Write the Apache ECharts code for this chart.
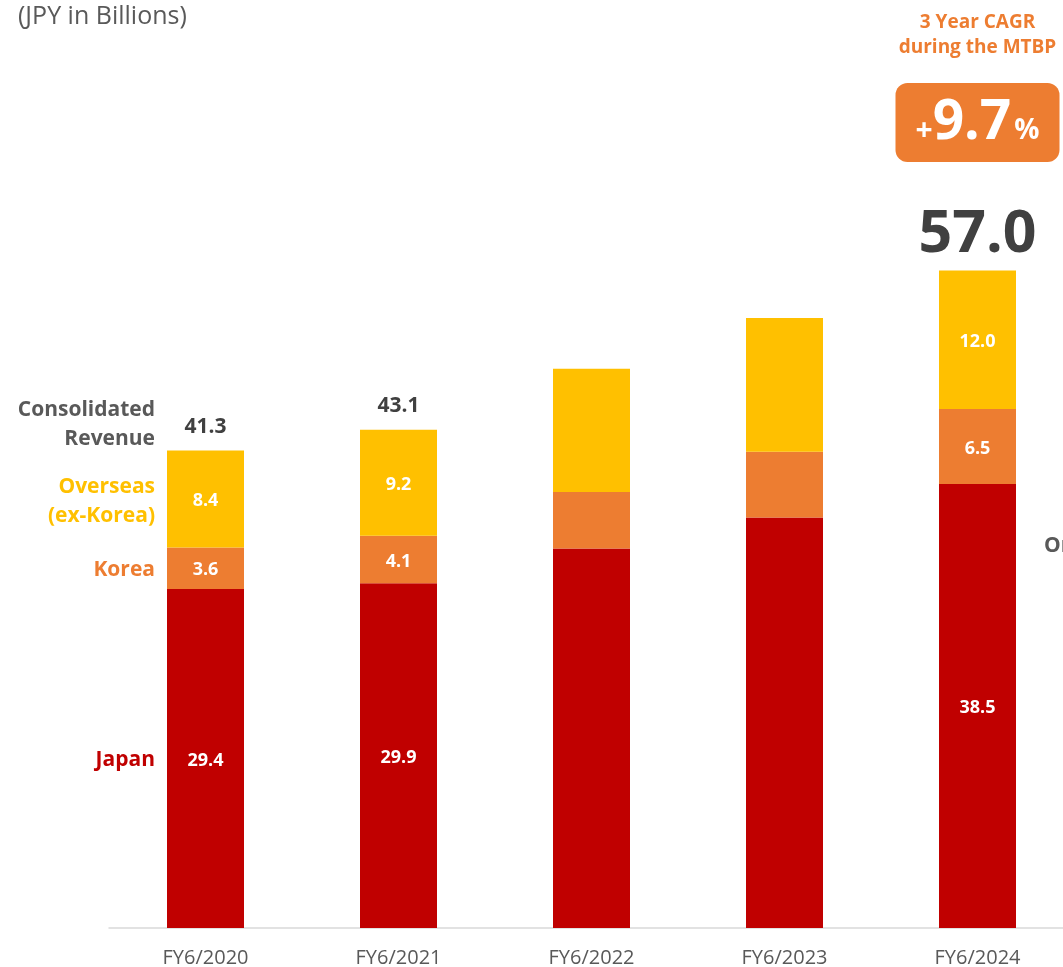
<!DOCTYPE html>
<html>
<head>
<meta charset="utf-8">
<script src="https://cdn.jsdelivr.net/npm/echarts@6/dist/echarts.min.js"></script>
<style>
  html, body { margin: 0; padding: 0; background: #ffffff; }
  #chart { width: 1063px; height: 967px; }
</style>
</head>
<body>
<div id="chart"></div>
<script>
// Revenue by region, JPY billions
const categories = ['FY6/2020', 'FY6/2021', 'FY6/2022', 'FY6/2023', 'FY6/2024'];
const japan    = [29.4, 29.9, 32.9, 35.6, 38.5];
const korea    = [3.6, 4.1, 4.9, 5.7, 6.5];
const overseas = [8.4, 9.2, 10.7, 11.6, 12.0];
const totals   = [41.3, 43.1, null, null, 57.0];
// which years carry value labels
const labelled = [true, true, false, false, true];
const cagr = '9.7';

const FONT = '"Open Sans", "Noto Sans", sans-serif';
const C_JAPAN = '#C00000', C_KOREA = '#ED7D31', C_OVER = '#FFC000';
const C_DARK = '#404040', C_GREY = '#595959';

const chart = echarts.init(document.getElementById('chart'), null, { renderer: 'canvas' });

function segData(values) {
  return values.map((v, i) => ({
    value: v,
    label: { show: labelled[i] }
  }));
}

function segSeries(name, values, color) {
  return {
    name, type: 'bar', stack: 'rev', barWidth: 77,
    itemStyle: { color },
    label: {
      position: 'inside', color: '#ffffff', fontFamily: FONT,
      fontWeight: 'bold', fontSize: 18, offset: [0, 2], formatter: p => p.value.toFixed(1)
    },
    emphasis: { disabled: true },
    data: segData(values)
  };
}

const lastIdx = categories.length - 1;
const totalData = totals.map((t, i) => ({
  value: 0,
  label: i === lastIdx
    ? { show: true, fontSize: 59, distance: 6, color: C_DARK }
    : { show: t != null }
}));

chart.setOption({
  animation: false,
  // plot area runs a little past the right edge of the page
  grid: { left: 109, width: 965, top: 236, bottom: 39, outerBoundsMode: 'none', containLabel: false },
  xAxis: {
    type: 'category', data: categories,
    axisLine: { lineStyle: { color: '#D9D9D9', width: 1.5 } },
    axisTick: { show: false },
    axisLabel: { color: C_GREY, fontFamily: FONT, fontSize: 20, margin: 20 }
  },
  yAxis: {
    type: 'value', min: 0, max: 60, show: false,
    splitLine: { show: false }
  },
  series: [
    segSeries('Japan', japan, C_JAPAN),
    segSeries('Korea', korea, C_KOREA),
    segSeries('Overseas (ex-Korea)', overseas, C_OVER),
    {
      name: 'Consolidated Revenue', type: 'bar', stack: 'rev', barWidth: 77,
      itemStyle: { color: 'transparent' },
      label: {
        position: 'top', distance: 13, color: C_DARK, fontFamily: FONT,
        fontWeight: 'bold', fontSize: 21,
        formatter: p => totals[p.dataIndex] != null ? totals[p.dataIndex].toFixed(1) : ''
      },
      emphasis: { disabled: true },
      data: totalData
    }
  ]
});

// Row captions beside the first bar, and the CAGR callout above the last bar
const px = (i, v) => chart.convertToPixel({ gridIndex: 0 }, [i, v]);
const barLeft = px(0, 0)[0] - 77 / 2;
const capX = barLeft - 12;
const yJapan = px(0, japan[0] / 2)[1];
const yKorea = px(0, japan[0] + korea[0] / 2)[1];
const yOver = px(0, japan[0] + korea[0] + overseas[0] / 2)[1];
const yTotalTop = px(0, japan[0] + korea[0] + overseas[0])[1];

function caption(text, y, color) {
  return {
    type: 'text', x: capX, y: y + 2,
    style: {
      text, fill: color, font: 'bold 21px ' + FONT,
      align: 'right', verticalAlign: 'middle', lineHeight: 29
    }
  };
}

const lastX = px(lastIdx, 0)[0];

chart.setOption({
  graphic: [
    {
      type: 'text', left: 18, top: 4,
      style: { text: '(JPY in Billions)', fill: C_GREY, font: '25px ' + FONT }
    },
    caption('Consolidated\nRevenue', yTotalTop - 28, C_GREY),
    caption('Overseas\n(ex-Korea)', yOver + 1, C_OVER),
    caption('Korea', yKorea, C_KOREA),
    caption('Japan', yJapan, C_JAPAN),
    {
      type: 'text', x: lastX, y: 35,
      style: {
        text: '3 Year CAGR\nduring the MTBP', fill: C_KOREA,
        font: 'bold 19px ' + FONT, align: 'center', verticalAlign: 'middle', lineHeight: 25
      }
    },
    {
      type: 'rect',
      shape: { x: lastX - 82, y: 83, width: 164, height: 79, r: 12 },
      style: { fill: C_KOREA }
    },
    {
      type: 'text', x: lastX, y: 123,
      style: {
        text: '{s|+}{b|' + cagr + '}{p|%}',
        align: 'center', verticalAlign: 'middle',
        rich: {
          s: { fill: '#ffffff', font: 'bold 30px ' + FONT, padding: [16, 0, 0, 0] },
          b: { fill: '#ffffff', font: 'bold 55px ' + FONT },
          p: { fill: '#ffffff', font: 'bold 28px ' + FONT, padding: [16, 0, 0, 3] }
        }
      }
    },
    {
      type: 'text', x: 1044, y: 546,
      style: { text: 'Organic', fill: C_GREY, font: 'bold 21px ' + FONT, verticalAlign: 'middle' }
    }
  ]
});
</script>
</body>
</html>
